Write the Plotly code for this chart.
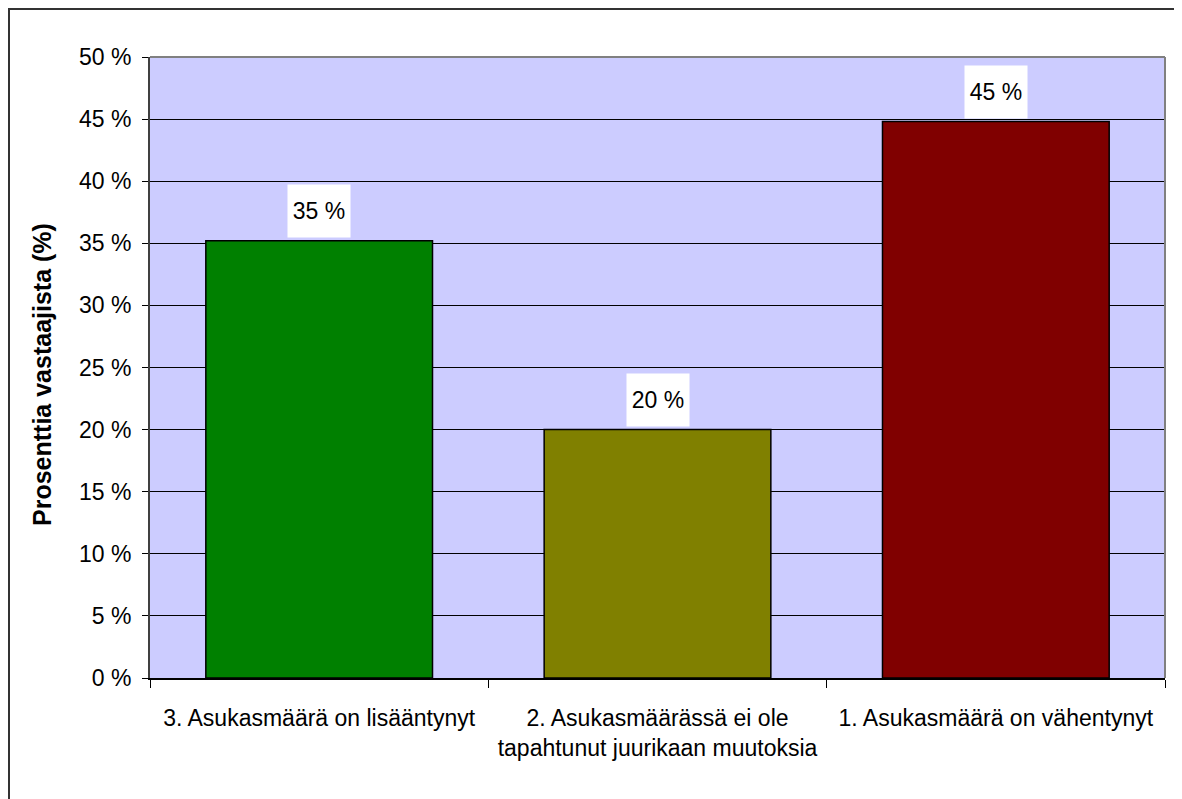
import plotly.graph_objects as go

categories = [
    "3. Asukasmäärä on lisääntynyt",
    "2. Asukasmäärässä ei ole<br>tapahtunut juurikaan muutoksia",
    "1. Asukasmäärä on vähentynyt",
]
values = [35.2, 20.0, 44.8]
value_labels = ["35 %", "20 %", "45 %"]
bar_colors = ["#008000", "#808000", "#800000"]
y_tick_vals = [0, 5, 10, 15, 20, 25, 30, 35, 40, 45, 50]
y_tick_text = ["0 %", "5 %", "10 %", "15 %", "20 %", "25 %", "30 %", "35 %", "40 %", "45 %", "50 %"]
y_title = "Prosenttia vastaajista (%)"

FONT = "Liberation Sans, Arial, sans-serif"
OFF = 8  # page body margin
W, H = 1182 - OFF, 799 - OFF
L, R, T, B = 150 - OFF, 1165 - OFF, 57 - OFF, 678 - OFF

fig = go.Figure()
fig.add_trace(go.Bar(
    x=categories, y=values,
    marker=dict(color=bar_colors, line=dict(color="black", width=1.5)),
    width=0.67,
    hoverinfo="skip",
))

for c, v, t in zip(categories, values, value_labels):
    fig.add_annotation(
        x=c, y=v, xref="x", yref="y", text=t, showarrow=False,
        yanchor="bottom", yshift=3, bgcolor="white", width=62, height=52,
        borderpad=0, font=dict(family=FONT, size=23, color="black"),
    )

def px_x(p):
    return (p - OFF - L) / (R - L)

def px_y(p):
    return (B - (p - OFF)) / (B - T)

# axis title
fig.add_annotation(
    x=px_x(42), y=px_y(375), xref="paper", yref="paper", text="<b>" + y_title + "</b>",
    textangle=-90, showarrow=False, xanchor="center", yanchor="middle",
    font=dict(family=FONT, size=25, color="black"),
)

# plot area border (top/right gray)
fig.add_shape(type="line", xref="paper", yref="paper", x0=0, x1=1, y0=1, y1=1,
              line=dict(color="#808080", width=2), layer="above")
fig.add_shape(type="line", xref="paper", yref="paper", x0=1, x1=1, y0=0, y1=1,
              line=dict(color="#808080", width=2), layer="above")

# outer chart frame
fig.add_shape(type="rect", xref="paper", yref="paper",
              x0=px_x(9), x1=px_x(1250), y0=px_y(850), y1=px_y(9),
              line=dict(color="#333333", width=2), fillcolor="rgba(0,0,0,0)")

fig.update_layout(
    width=W, height=H,
    margin=dict(l=L, r=W - R, t=T, b=H - B),
    paper_bgcolor="white",
    plot_bgcolor="#CCCCFF",
    showlegend=False,
    font=dict(family=FONT, size=23, color="black"),
    bargap=0.33,
)
fig.update_yaxes(
    range=[0, 50], tickvals=y_tick_vals, ticktext=y_tick_text,
    showgrid=True, gridcolor="black", gridwidth=1,
    ticks="outside", ticklen=6, tickcolor="black",
    showline=True, linecolor="#404040", linewidth=2,
    tickfont=dict(family=FONT, size=23, color="black"),
    ticklabelstandoff=6, zeroline=False,
)
fig.update_xaxes(
    tickson="boundaries", ticks="outside", ticklen=8, tickcolor="black",
    showline=True, linecolor="black", linewidth=2, showgrid=False,
    tickfont=dict(family=FONT, size=23, color="black"),
    ticklabelstandoff=18,
)

fig.write_html("out.html")
